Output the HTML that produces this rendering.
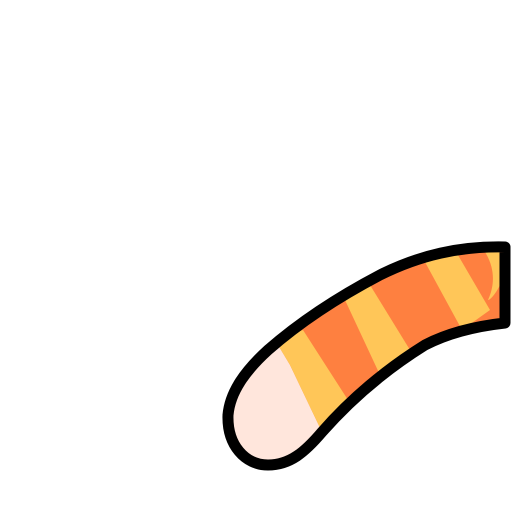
<!DOCTYPE html>
<html>
<head>
<meta charset="utf-8">
<style>
html,body{margin:0;padding:0;background:#fff;width:512px;height:512px;overflow:hidden}
svg{display:block}
</style>
</head>
<body>
<svg width="512" height="512" viewBox="0 0 512 512">
  <defs>
    <clipPath id="tailClip">
      <path d="M505,247 C460,246 420,255 380,275 C340,296 300,322 268,350 C245,371 230,392 228,415 C227,445 245,465 268,465 C290,465 305,452 322,432 C350,400 385,370 425,345 C450,332 478,326 505,323 Z"/>
    </clipPath>
  </defs>
  <g clip-path="url(#tailClip)">
    <rect x="200" y="230" width="320" height="260" fill="#fe8040"/>
    <polygon points="200,320 275,340 290,365 322,432 330,500 200,500" fill="#ffe6dc"/>
    <polygon points="275,340 303,330 348,400 322,432 290,365" fill="#ffc658"/>
    <polygon points="345,300 370,285 410,350 380,375" fill="#ffc658"/>
    <polygon points="425,262 455,250 490,310 462,330" fill="#ffc658"/>
    <path d="M500,250 L500,285 C495,295 490,300 488,300 C495,285 495,268 485,252 Z" fill="#ffc658"/>
  </g>
  <path d="M505,247 C460,246 420,255 380,275 C340,296 300,322 268,350 C245,371 230,392 228,415 C227,445 245,465 268,465 C290,465 305,452 322,432 C350,400 385,370 425,345 C450,332 478,326 505,323 Z" fill="none" stroke="#000" stroke-width="11" stroke-linejoin="round"/>
</svg>
</body>
</html>
